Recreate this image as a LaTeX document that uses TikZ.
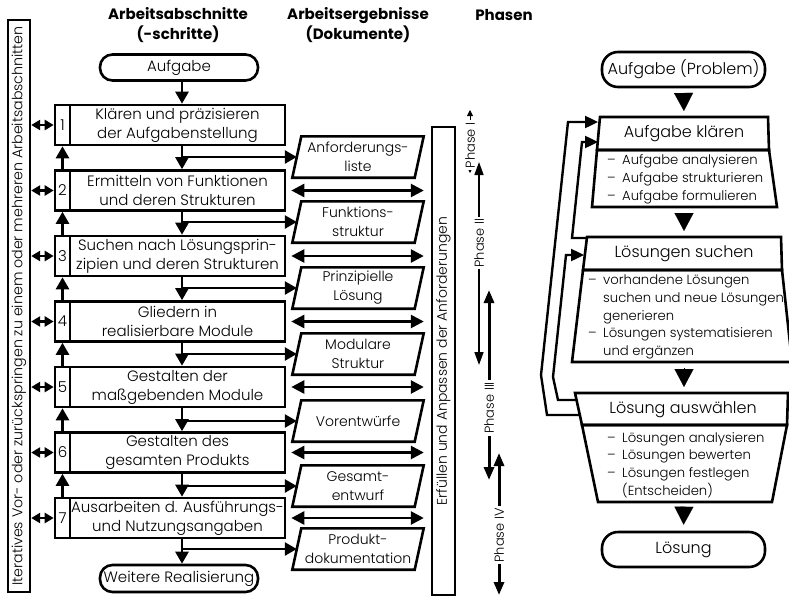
\documentclass[tikz,border=0pt]{standalone}
\usepackage{fontspec}
\setmainfont{Poppins}[UprightFont={* Light}, BoldFont={* Bold}]
\usetikzlibrary{arrows.meta}

\newcommand{\fbody}{\fontsize{15}{19}\selectfont}
\newcommand{\fdoc}{\fontsize{14}{19}\selectfont}
\newcommand{\fbar}{\fontsize{14.2}{16}\selectfont}
\newcommand{\fbarr}{\fontsize{14}{16}\selectfont}
\newcommand{\fhead}{\fontsize{15}{20}\selectfont\bfseries}
\newcommand{\ftitle}{\fontsize{16}{18}\selectfont}
\newcommand{\flist}{\fontsize{13.2}{17.8}\selectfont}
\newcommand{\fphase}{\fontsize{13}{14}\selectfont}
\newcommand{\itm}{\makebox[15pt][l]{–}}
\newcommand{\ind}{\hspace*{15pt}}

\begin{document}
\begin{tikzpicture}[x=1pt,y=-1pt,
  stepbox/.style={draw, line width=2.6pt, minimum width=215pt, minimum height=40pt,
    inner sep=0pt, align=center, font=\fbody},
  numbox/.style={draw, line width=2.6pt, minimum width=15pt, minimum height=40pt,
    inner sep=0pt, font=\fbody},
  term/.style={draw, line width=2.6pt, minimum width=158pt, minimum height=26pt,
    rounded corners=12.5pt, inner sep=0pt, font=\fbody},
  bigterm/.style={draw, line width=2.6pt, minimum width=163pt, minimum height=35pt,
    rounded corners=16pt, inner sep=0pt, font=\ftitle},
  doc/.style={minimum width=122pt, minimum height=41pt, inner sep=0pt,
    align=center, font=\fdoc},
  bar/.style={draw, line width=2.4pt, inner sep=0pt, rotate=90},
  outline/.style={line width=2.6pt, line join=miter},
  arr/.style={line width=2.6pt, -{Triangle[length=12pt,width=13pt]}},
  sidearr/.style={line width=2.4pt, {Triangle[length=9pt,width=10pt]}-{Triangle[length=9pt,width=10pt]}},
  docarr/.style={line width=2.6pt, {Triangle[length=13pt,width=13pt]}-{Triangle[length=13pt,width=13pt]},
    shorten <=5pt, shorten >=7pt},
  ph1/.style={line width=0.8pt, {Triangle[length=6pt,width=6pt]}-{Triangle[length=6pt,width=6pt]}},
  ph2/.style={line width=1.6pt, {Triangle[length=13pt,width=9pt]}-{Triangle[length=13pt,width=9pt]}},
  ph3/.style={line width=3pt, {Triangle[length=13pt,width=10pt]}-{Triangle[length=13pt,width=10pt]}},
  phlabel/.style={rotate=90, fill=white, inner sep=2pt, font=\fphase},
  bigtri/.style={line width=0.1pt, -{Triangle[length=18pt,width=19pt]},
    shorten <=6pt, shorten >=6pt},
  fb/.style={line width=2.4pt, line join=miter, -{Triangle[length=13pt,width=12pt]}},
  list/.style={inner sep=0pt, align=left, font=\flist, anchor=west},
]
\fill[white] (0,0) rectangle (789,597);
\useasboundingbox (0,0) rectangle (789,597);

% ---------------- column headers ----------------
\node[font=\fhead, align=center] (h1) at (178,25) {Arbeitsabschnitte\\(-schritte)};
\node[font=\fhead, align=center] (h2) at (358,25) {Arbeitsergebnisse\\(Dokumente)};
\node[font=\fhead] (h3) at (504,15) {Phasen};

% ---------------- vertical bars ----------------
\node[bar, font=\fbar, minimum width=572pt, minimum height=22pt] (iter) at (19,306)
  {Iteratives Vor- oder zurückspringen zu einem oder mehreren Arbeitsabschnitten};
\node[bar, font=\fbarr, minimum width=468pt, minimum height=23pt] (req) at (443.5,361)
  {Erfüllen und Anpassen der Anforderungen};

% ---------------- work steps ----------------
\node[term] (start) at (179,67.5) {Aufgabe};

\node[numbox] (n1) at (62.5,125) {1};
\node[stepbox] (s1) at (177.5,125) {Klären und präzisieren\\der Aufgabenstellung};
\node[numbox] (n2) at (62.5,190.5) {2};
\node[stepbox] (s2) at (177.5,190.5) {Ermitteln von Funktionen\\und deren Strukturen};
\node[numbox] (n3) at (62.5,256) {3};
\node[stepbox] (s3) at (177.5,256) {Suchen nach Lösungsprin-\\zipien und deren Strukturen};
\node[numbox] (n4) at (62.5,321.5) {4};
\node[stepbox] (s4) at (177.5,321.5) {Gliedern in\\realisierbare Module};
\node[numbox] (n5) at (62.5,387) {5};
\node[stepbox] (s5) at (177.5,387) {Gestalten der\\maßgebenden Module};
\node[numbox] (n6) at (62.5,452.5) {6};
\node[stepbox] (s6) at (177.5,452.5) {Gestalten des\\gesamten Produkts};
\node[numbox] (n7) at (62.5,518) {7};
\node[stepbox] (s7) at (177.5,518) {Ausarbeiten d. Ausführungs-\\und Nutzungsangaben};

\node[term, minimum height=27pt] (end) at (179,578.5) {Weitere Realisierung};

% ---------------- documents ----------------
\node[doc] (d1) at (358,157) {Anforderungs-\\liste};
\node[doc] (d2) at (358,222) {Funktions-\\struktur};
\node[doc] (d3) at (358,288) {Prinzipielle\\Lösung};
\node[doc] (d4) at (358,354) {Modulare\\Struktur};
\node[doc] (d5) at (358,421) {Vorentwürfe};
\node[doc] (d6) at (358,486) {Gesamt-\\entwurf};
\node[doc] (d7) at (358,549) {Produkt-\\dokumentation};
\foreach \d in {d1,d2,d3,d4,d5,d6,d7}
  \draw[outline] ([xshift=4.5pt]\d.north west) -- ([xshift=4.5pt]\d.north east)
    -- ([xshift=-4.5pt]\d.south east) -- ([xshift=-4.5pt]\d.south west) -- cycle;

% ---------------- connectors of the step column ----------------
\coordinate (ax) at (182,0);
\draw[arr] (start.south -| ax) -- (s1.north -| ax);
\foreach \a/\b in {s1/s2,s2/s3,s3/s4,s4/s5,s5/s6,s6/s7}
  \draw[arr] (\a.south -| ax) -- (\b.north -| ax);
\draw[arr] (s7.south -| ax) -- (end.north -| ax);
\foreach \d in {d1,d2,d3,d4,d5,d6,d7}
  \draw[arr] (\d.west -| ax) -- (\d.west);
\foreach \a/\b in {n2/n1,n3/n2,n4/n3,n5/n4,n6/n5,n7/n6}
  \draw[arr] (\a.north) -- (\b.south);
\foreach \n in {n1,n2,n3,n4,n5,n6,n7}
  \draw[sidearr] (iter.south |- \n.west) -- (\n.west);
\foreach \s in {s2,s3,s4,s5,s6,s7}
  \draw[docarr] (\s.east) -- (req.north |- \s.east);

% ---------------- phases ----------------
\coordinate (p1t) at (470,110);  \coordinate (p1b) at (470,173);
\coordinate (p2t) at (479,162);  \coordinate (p2b) at (479,365);
\coordinate (p3t) at (489,290);  \coordinate (p3b) at (489,480);
\coordinate (p4t) at (499,453);  \coordinate (p4b) at (499,595);
\draw[ph1] (p1t) -- node[phlabel, pos=0.56] {Phase I} (p1b);
\draw[ph2] (p2t) -- node[phlabel, pos=0.40] {Phase II} (p2b);
\draw[ph3] (p3t) -- node[phlabel, pos=0.62] {Phase III} (p3b);
\draw[ph3] (p4t) -- node[phlabel, pos=0.58] {Phase IV} (p4b);

% ---------------- general procedure (right) ----------------
\node[bigterm] (prob) at (683.5,69.5) {Aufgabe (Problem)};

\draw[outline] (600,117) -- (768,117) -- (769,150) -- (597,150) -- cycle;
\draw[outline] (597,150) -- (769,150) -- (777,207) -- (592,207) -- cycle;
\node[font=\ftitle] (ktitle) at (684,134) {Aufgabe klären};
\node[list] (klist) at (607,179.5)
  {\itm Aufgabe analysieren\\\itm Aufgabe strukturieren\\\itm Aufgabe formulieren};

\draw[outline] (587,237) -- (781,237) -- (782,270) -- (583,270) -- cycle;
\draw[outline] (583,270) -- (782,270) -- (792,362) -- (572,362) -- cycle;
\node[font=\ftitle] (ltitle) at (684,254) {Lösungen suchen};
\node[list] (llist) at (588,317)
  {\itm vorhandene Lösungen\\\ind suchen und neue Lösungen\\\ind generieren\\
   \itm Lösungen systematisieren\\\ind und ergänzen};

\draw[outline] (575,393) -- (788,393) -- (787,425) -- (582,425) -- cycle;
\draw[outline] (582,425) -- (787,425) -- (772,502) -- (598,502) -- cycle;
\node[font=\ftitle] (wtitle) at (683,410) {Lösung auswählen};
\node[list] (wlist) at (607,465)
  {\itm Lösungen analysieren\\\itm Lösungen bewerten\\\itm Lösungen festlegen\\\ind (Entscheiden)};

\node[bigterm] (sol) at (683.5,549.5) {Lösung};

\coordinate (kt) at (684,117);  \coordinate (kb) at (684,207);
\coordinate (lt) at (684,237);  \coordinate (lb) at (684,362);
\coordinate (wt) at (684,393);  \coordinate (wb) at (684,502);
\draw[bigtri] (prob.south) -- (kt);
\draw[bigtri] (kb) -- (lt);
\draw[bigtri] (lb) -- (wt);
\draw[bigtri] (wb) -- (sol.north);

% feedback loops
\coordinate (fa0) at (580,415); \coordinate (fa1) at (598,122);
\coordinate (fb0) at (576,400); \coordinate (fb1) at (584,255);
\coordinate (fc0) at (587,238); \coordinate (fc1) at (598,142);
\draw[fb] (fa0) -- (547,415) -- (541,375) -- (568,122) -- (fa1);
\draw[fb] (fb0) -- (558,400) -- (553,377) -- (566,255) -- (fb1);
\draw[fb] (fc0) -- (572,238) -- (582,142) -- (fc1);
\end{tikzpicture}
\end{document}
